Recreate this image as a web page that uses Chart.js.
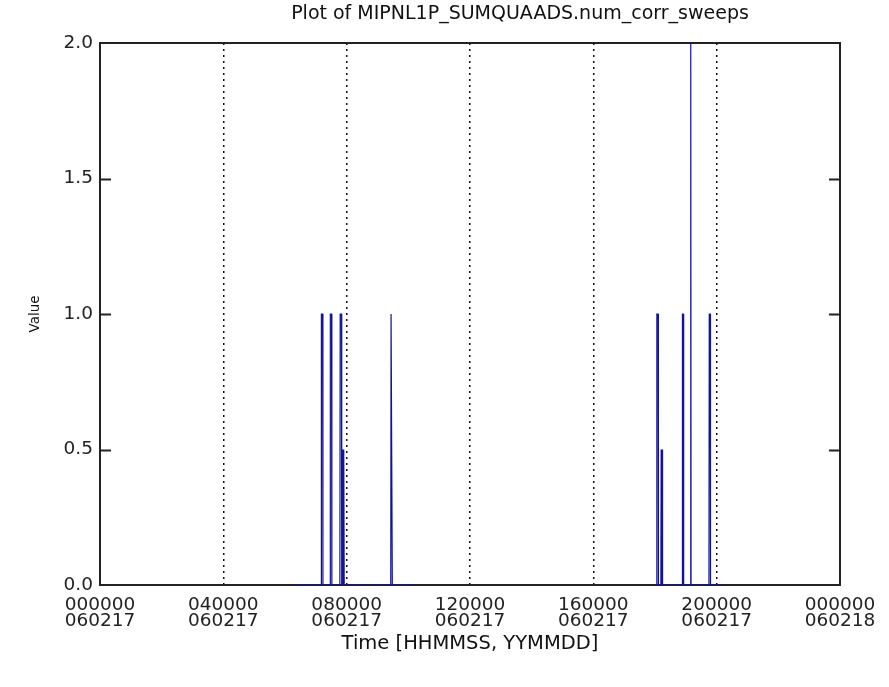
<!DOCTYPE html>
<html>
<head>
<meta charset="utf-8">
<script src="https://cdn.jsdelivr.net/npm/chart.js"></script>
<style>
  html, body { margin: 0; padding: 0; background: #fff; }
  #wrap { width: 889px; height: 687px; }
</style>
</head>
<body>
<div id="wrap"><canvas id="plot"></canvas></div>
<script>
// time of day in hours (060217), null value = no data (line break)
const timeHours = [
  6.35, 7.17, 7.18, 7.22, 7.23, 7.46, 7.47, 7.51, 7.52, 7.78, 7.79, 7.83, 7.84,
  7.85, 7.86, 7.87, 7.88, 7.89, 7.90, 7.91, 7.92, 8.64,
  8.72,
  8.80, 9.43, 9.44, 9.47, 9.48, 10.14,
  14.0,
  18.03, 18.05, 18.06, 18.10, 18.11, 18.19, 18.20, 18.21, 18.22, 18.23, 18.24, 18.25, 18.26,
  18.88, 18.89, 18.92, 18.93, 19.15, 19.16, 19.17, 19.75, 19.76, 19.79, 19.80, 20.19
];
const values = [
  0, 0, 1, 1, 0, 0, 1, 1, 0, 0, 1, 1, 0,
  0.5, 0, 0.5, 0, 0.5, 0, 0.5, 0, 0,
  null,
  0, 0, 1, 1, 0, 0,
  null,
  0, 0, 1, 1, 0, 0, 0.5, 0, 0.5, 0, 0.5, 0, 0,
  0, 1, 1, 0, 0, 2, 0, 0, 1, 1, 0, 0
];
const tickTimes = ['000000', '040000', '080000', '120000', '160000', '200000', '000000'];
const tickDates = ['060217', '060217', '060217', '060217', '060217', '060217', '060218'];
const plotTitle = 'Plot of MIPNL1P_SUMQUAADS.num_corr_sweeps';

let points = [];
for (let i = 0; i < timeHours.length; i++) {
  points.push({x: timeHours[i], y: values[i]});
}

const font = 'DejaVu Sans';

// frame + inward ticks, like the old IDL plots (drawn under the data)
const frame = {
  id: 'frame',
  beforeDatasetsDraw(chart) {
    const ctx = chart.ctx;
    const a = chart.chartArea;
    const ys = chart.scales.y;
    ctx.save();
    ctx.strokeStyle = '#222';
    ctx.lineWidth = 2;
    ctx.strokeRect(a.left, a.top, a.right - a.left, a.bottom - a.top);
    ys.ticks.forEach(function(t) {
      if (t.value <= ys.min || t.value >= ys.max) return;
      const py = Math.round(ys.getPixelForValue(t.value)) + 0.5;
      ctx.beginPath();
      ctx.moveTo(a.left, py); ctx.lineTo(a.left + 11, py);
      ctx.moveTo(a.right, py); ctx.lineTo(a.right - 11, py);
      ctx.stroke();
    });
    ctx.restore();
  },
  // title sits off-centre in the original, so place it by hand
  afterDraw(chart) {
    const ctx = chart.ctx;
    ctx.save();
    ctx.fillStyle = '#111';
    ctx.font = '19px "' + font + '"';
    ctx.textAlign = 'center';
    ctx.textBaseline = 'middle';
    ctx.fillText(plotTitle, 520, 14);
    ctx.restore();
  }
};

new Chart(document.getElementById('plot'), {
  type: 'scatter',
  data: {
    datasets: [{
      data: points,
      showLine: true,
      spanGaps: false,
      clip: 3,
      borderColor: '#12129a',
      borderWidth: 1.2,
      pointRadius: 0,
      tension: 0
    }]
  },
  options: {
    responsive: true,
    maintainAspectRatio: false,
    animation: false,
    layout: {padding: {left: 0, right: 49, top: 43, bottom: 0}},
    plugins: {
      legend: {display: false},
      tooltip: {enabled: false},
      title: {display: false}
    },
    scales: {
      x: {
        type: 'linear',
        min: 0,
        max: 24,
        afterFit: function(scale) { scale.height = 102; },
        ticks: {
          stepSize: 4,
          autoSkip: false,
          maxRotation: 0,
          padding: 13,
          color: '#222',
          font: {family: font, size: 18.5, lineHeight: 0.83},
          callback: function(v, i) { return [tickTimes[i], tickDates[i]]; }
        },
        grid: {
          drawTicks: false,
          lineWidth: 1.5,
          color: function(c) {
            return (c.tick && (c.tick.value === 0 || c.tick.value === 24)) ? 'rgba(0,0,0,0)' : '#111';
          }
        },
        border: {display: false, dash: [2, 4]},
        title: {
          display: true,
          text: 'Time [HHMMSS, YYMMDD]',
          color: '#111',
          font: {family: font, size: 19.5},
          padding: {top: 0, bottom: 31}
        }
      },
      y: {
        min: 0,
        max: 2,
        afterFit: function(scale) { scale.width = 100; },
        ticks: {
          stepSize: 0.5,
          padding: 7,
          color: '#222',
          font: {family: font, size: 18.5},
          callback: function(v) { return v.toFixed(1); }
        },
        grid: {display: false, drawTicks: false},
        border: {display: false},
        title: {
          display: true,
          text: 'Value',
          color: '#111',
          font: {family: font, size: 13.5},
          padding: {top: 27, bottom: 0}
        }
      }
    }
  },
  plugins: [frame]
});
</script>
</body>
</html>
